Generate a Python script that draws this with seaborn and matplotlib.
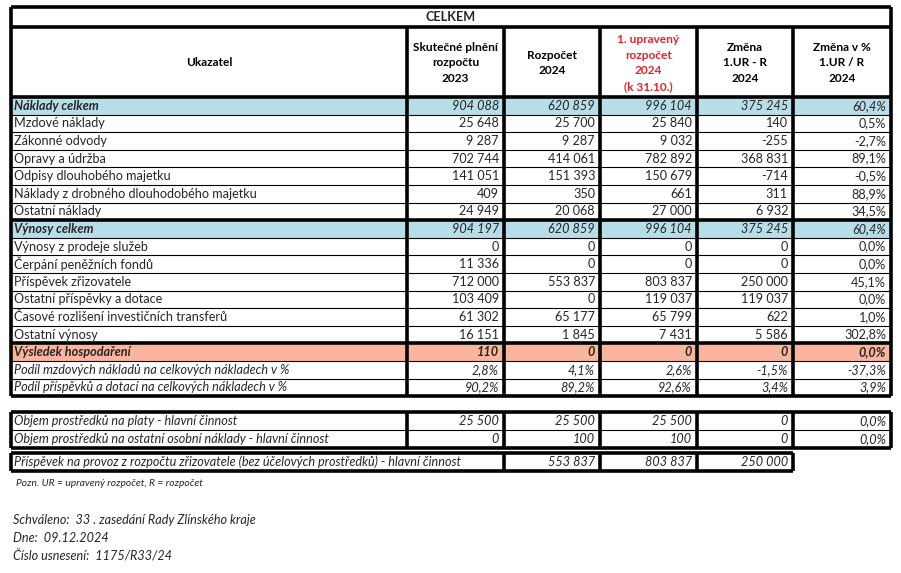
import numpy as np
import matplotlib
matplotlib.use("Agg")
import matplotlib.pyplot as plt
from matplotlib.colors import ListedColormap
import seaborn as sns

# --- DATA ---
title = "CELKEM"
col_headers = ["Ukazatel", "Skutečné plnění\nrozpočtu\n2023", "Rozpočet\n2024",
               "1. upravený\nrozpočet\n2024\n(k 31.10.)", "Změna\n1.UR - R\n2024",
               "Změna v %\n1.UR / R\n2024"]

row_labels = ["Náklady celkem", "Mzdové náklady", "Zákonné odvody", "Opravy a údržba",
              "Odpisy dlouhobého majetku", "Náklady z drobného dlouhodobého majetku",
              "Ostatní náklady", "Výnosy celkem", "Výnosy z prodeje služeb",
              "Čerpání peněžních fondů", "Příspěvek zřizovatele",
              "Ostatní příspěvky a dotace", "Časové rozlišení investičních transferů",
              "Ostatní výnosy", "Výsledek hospodaření"]
row_kind = ["total", "", "", "", "", "", "", "total", "", "", "", "", "", "", "result"]

skutecnost_2023 = [904088, 25648, 9287, 702744, 141051, 409, 24949, 904197, 0, 11336,
                   712000, 103409, 61302, 16151, 110]
rozpocet_2024 = [620859, 25700, 9287, 414061, 151393, 350, 20068, 620859, 0, 0,
                 553837, 0, 65177, 1845, 0]
upraveny_2024 = [996104, 25840, 9032, 782892, 150679, 661, 27000, 996104, 0, 0,
                 803837, 119037, 65799, 7431, 0]
zmena = [375245, 140, -255, 368831, -714, 311, 6932, 375245, 0, 0,
         250000, 119037, 622, 5586, 0]
zmena_pct = [60.4, 0.5, -2.7, 89.1, -0.5, 88.9, 34.5, 60.4, 0.0, 0.0,
             45.1, 0.0, 1.0, 302.8, 0.0]

share_labels = ["Podíl mzdových nákladů na celkových nákladech v %",
                "Podíl příspěvků a dotací na celkových nákladech v %"]
share_mzdy = [2.8, 4.1, 2.6, -1.5, -37.3]
share_prispevky = [90.2, 89.2, 92.6, 3.4, 3.9]

objem_labels = ["Objem prostředků na platy - hlavní činnost",
                "Objem prostředků na ostatní osobní náklady - hlavní činnost"]
objem_platy = [25500, 25500, 25500, 0, 0.0]
objem_oon = [0, 100, 100, 0, 0.0]

provoz_label = "Příspěvek na provoz z rozpočtu zřizovatele (bez účelových prostředků) - hlavní činnost"
provoz_values = [553837, 803837, 250000]

note = "Pozn. UR = upravený rozpočet, R = rozpočet"
approval = ["Schváleno:  33 . zasedání Rady Zlínského kraje", "Dne:  09.12.2024",
            "Číslo usnesení:  1175/R33/24"]

# --- STYLE ---
sns.set_theme(style="white")
plt.rcParams['font.family'] = ['Lato', 'DejaVu Sans']
BLUE = "#B7DEE8"
SALMON = "#FBB59E"
FS = 9.1
THICK = 2.6
THIN = 0.8


def num(v):
    return f"{v:,}".replace(",", " ")


def pct(v):
    return f"{v:.1f}%".replace(".", ",")


# --- LAYOUT (pixel space) ---
W, H = 901, 573
xs = [11, 407, 504, 600, 697, 793, 891]
y_title, y_head, y_body = 7, 27, 97
rh = 17.6
n_rows = len(row_labels) + len(share_labels)
y_end = y_body + n_rows * rh

fig = plt.figure(figsize=(W / 100, H / 100), dpi=100)
fig.patch.set_facecolor("white")

# row fills via heatmap
codes = np.array([[{"": 0, "total": 1, "result": 2}[k]] for k in row_kind] + [[0]] * len(share_labels))
ax_bg = fig.add_axes([xs[0] / W, 1 - y_end / H, (xs[-1] - xs[0]) / W, (y_end - y_body) / H])
sns.heatmap(codes, ax=ax_bg, cmap=ListedColormap(["white", BLUE, SALMON]), vmin=-0.5, vmax=2.5,
            cbar=False, xticklabels=False, yticklabels=False)
ax_bg.axis("off")

ax = fig.add_axes([0, 0, 1, 1], facecolor="none")
ax.set_xlim(0, W)
ax.set_ylim(H, 0)
ax.axis("off")

# title row
ax.text((xs[0] + xs[-1]) / 2, (y_title + y_head) / 2, title, ha="center", va="center",
        fontsize=FS, fontweight="bold")
for i, hdr in enumerate(col_headers):
    ax.text((xs[i] + xs[i + 1]) / 2, (y_head + y_body) / 2 + 1, hdr, ha="center", va="center",
            fontsize=8.6, fontweight="bold", linespacing=1.55,
            color="#E8202A" if i == 3 else "black")

# body
cols = [skutecnost_2023, rozpocet_2024, upraveny_2024, zmena]
for r, lab in enumerate(row_labels):
    yc = y_body + (r + 0.5) * rh
    kind = row_kind[r]
    lab_style = dict(fontstyle="italic", fontweight="bold") if kind else {}
    val_style = {"total": dict(fontstyle="italic"),
                 "result": dict(fontstyle="italic", fontweight="bold")}.get(kind, {})
    ax.text(xs[0] + 3, yc, lab, ha="left", va="center", fontsize=FS, **lab_style)
    for c, series in enumerate(cols):
        ax.text(xs[c + 2] - 5, yc, num(series[r]), ha="right", va="center", fontsize=FS, **val_style)
    ax.text(xs[6] - 5, yc, pct(zmena_pct[r]), ha="right", va="center", fontsize=FS, **val_style)

for k, (lab, vals) in enumerate(zip(share_labels, [share_mzdy, share_prispevky])):
    yc = y_body + (len(row_labels) + k + 0.5) * rh
    ax.text(xs[0] + 3, yc, lab, ha="left", va="center", fontsize=FS, fontstyle="italic")
    for c, v in enumerate(vals):
        ax.text(xs[c + 2] - 5, yc, pct(v), ha="right", va="center", fontsize=FS, fontstyle="italic")

# grid lines of main table
for r in range(1, n_rows):
    y = y_body + r * rh
    lw = THICK if r in (7, 14) else THIN
    ax.hlines(y, xs[0], xs[-1], color="black", lw=lw)
ax.hlines([y_title, y_head, y_body, y_end], xs[0], xs[-1], color="black", lw=THICK)
ax.vlines([xs[0], xs[-1]], y_title, y_end, color="black", lw=THICK)
ax.vlines(xs[1:-1], y_head, y_end, color="black", lw=THICK)

# table 2
t2_top, t2_rh = 412, 17.8
for k, (lab, vals) in enumerate(zip(objem_labels, [objem_platy, objem_oon])):
    yc = t2_top + (k + 0.5) * t2_rh
    ax.text(xs[0] + 3, yc, lab, ha="left", va="center", fontsize=FS, fontstyle="italic")
    for c, v in enumerate(vals[:4]):
        ax.text(xs[c + 2] - 5, yc, num(v), ha="right", va="center", fontsize=FS, fontstyle="italic")
    ax.text(xs[6] - 5, yc, pct(vals[4]), ha="right", va="center", fontsize=FS, fontstyle="italic")
t2_bot = t2_top + 2 * t2_rh
ax.hlines(t2_top + t2_rh, xs[0], xs[-1], color="black", lw=THIN)
ax.hlines([t2_top, t2_bot], xs[0], xs[-1], color="black", lw=THICK)
ax.vlines(xs, t2_top, t2_bot, color="black", lw=THICK)

# table 3
t3_top, t3_bot = 452.5, 471
yc = (t3_top + t3_bot) / 2
ax.text(xs[0] + 3, yc, provoz_label, ha="left", va="center", fontsize=FS, fontstyle="italic")
for c, v in enumerate(provoz_values):
    ax.text(xs[c + 3] - 5, yc, num(v), ha="right", va="center", fontsize=FS, fontstyle="italic")
ax.hlines([t3_top, t3_bot], xs[0], xs[5], color="black", lw=THICK)
ax.vlines([xs[0], xs[2], xs[3], xs[4], xs[5]], t3_top, t3_bot, color="black", lw=THICK)

# notes
ax.text(16, 483, note, ha="left", va="center", fontsize=7.4, fontstyle="italic")
for k, line in enumerate(approval):
    ax.text(13, 520 + k * 17.5, line, ha="left", va="center", fontsize=FS, fontstyle="italic")

fig.savefig("out.png", dpi=100, facecolor="white")
